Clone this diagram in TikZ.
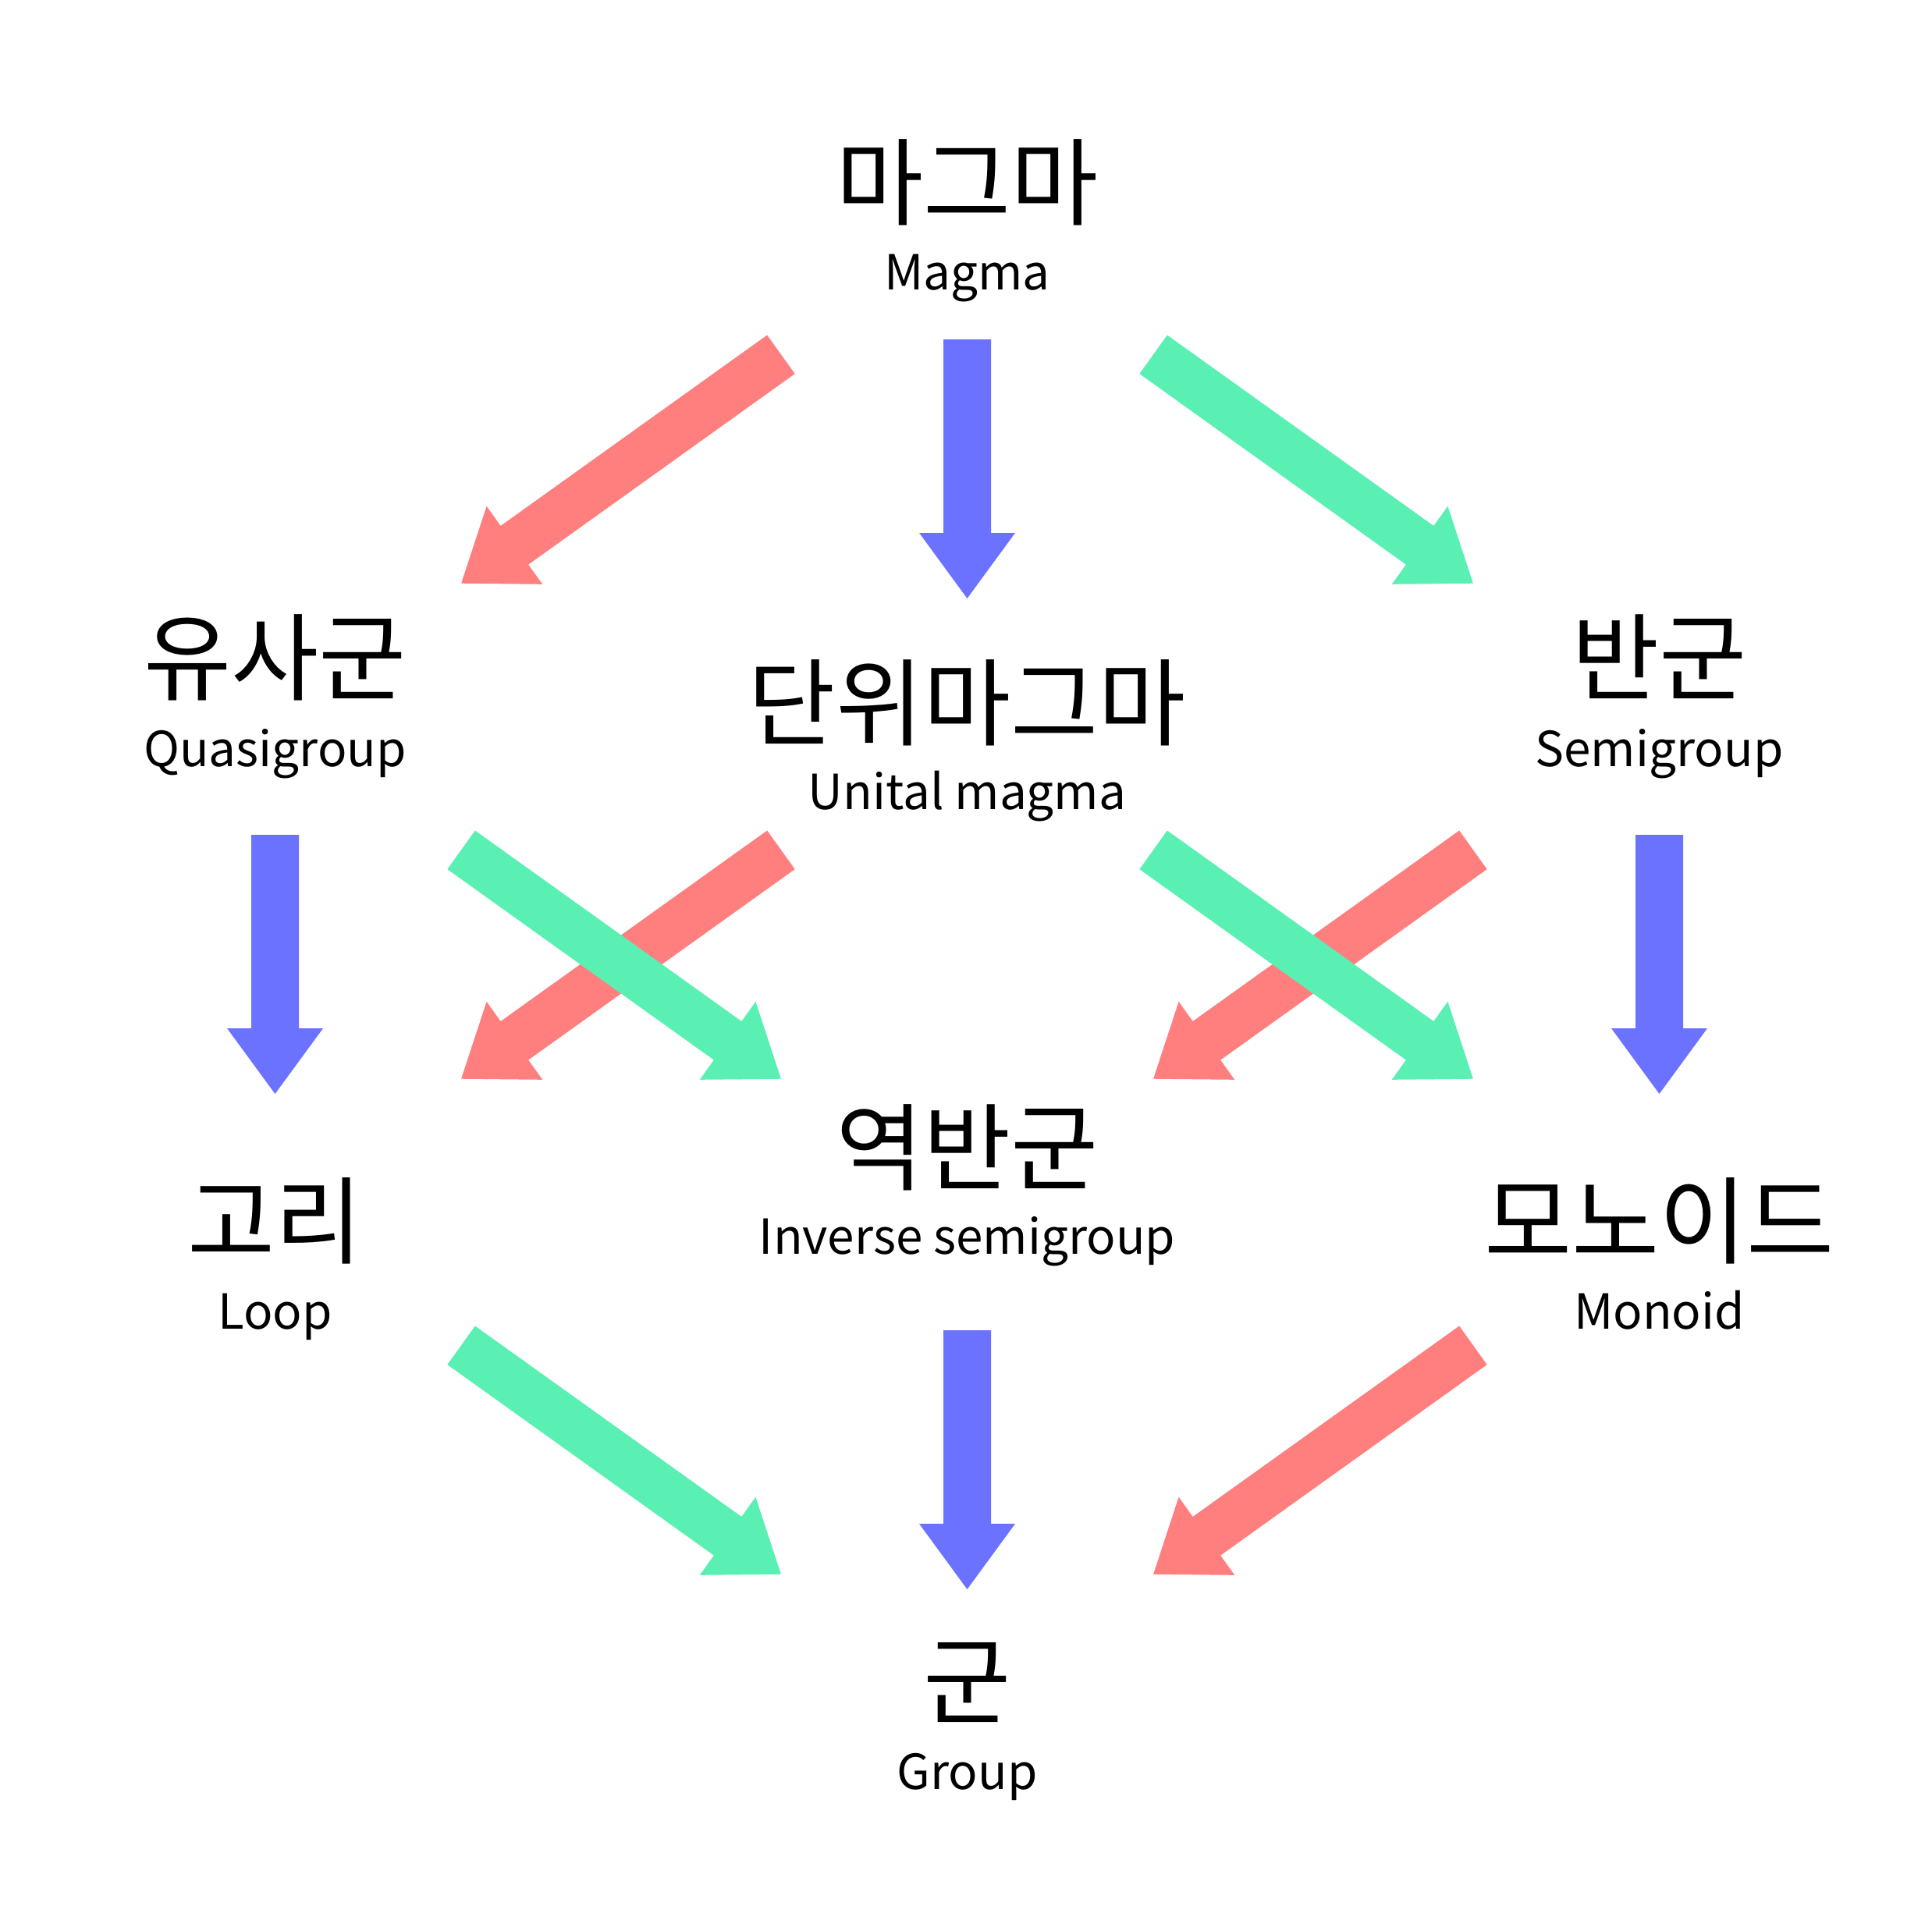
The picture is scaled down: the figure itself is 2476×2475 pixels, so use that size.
\documentclass[tikz,border=0pt]{standalone}
\usepackage{fontspec}
\setmainfont{Noto Sans CJK KR}
\newfontfamily\kr{Noto Sans CJK KR}
\usetikzlibrary{calc}
\definecolor{cred}{HTML}{FF7F7F}
\definecolor{cgreen}{HTML}{5AF0B4}
\definecolor{cblue}{HTML}{6B72FF}
\tikzset{
  kor/.style={anchor=north, inner sep=0pt, outer sep=0pt, font=\kr\fontsize{122}{122}\selectfont},
  lat/.style={anchor=base, inner sep=0pt, outer sep=0pt, font=\kr\fontsize{62}{62}\selectfont},
}
% fat arrow: colour, start coordinate, tip coordinate
\newcommand\fatarr[3]{%
  \path ($(#3)!84pt!(#2)$) coordinate (hb);
  \fill[#1] ($(#2)!30.5pt!90:(#3)$) -- ($(hb)!30.5pt!90:(#3)$) -- ($(hb)!61.5pt!90:(#3)$)
    -- (#3) -- ($(hb)!61.5pt!-90:(#3)$) -- ($(hb)!30.5pt!-90:(#3)$) -- ($(#2)!30.5pt!-90:(#3)$) -- cycle;}
\begin{document}
\begin{tikzpicture}[x=1pt,y=-1pt]
\fill[white] (0,0) rectangle (2476,2475);
\useasboundingbox (0,0) rectangle (2476,2475);
% labels
\node[kor] (magma) at (1239.5,179) {마그마};
\node[lat] (magmaL) at (1239.5,371) {Magma};
\node[kor] (quasi) at (352.5,788) {유사군};
\node[lat] (quasiL) at (352.5,982) {Quasigroup};
\node[kor] (unital) at (1239.5,846) {단위마그마};
\node[lat] (unitalL) at (1239.5,1037) {Unital magma};
\node[kor] (semi) at (2126.5,788) {반군};
\node[lat] (semiL) at (2126.5,982) {Semigroup};
\node[kor] (inverse) at (1239.5,1416) {역반군};
\node[lat] (inverseL) at (1239.5,1607) {Inverse semigroup};
\node[kor] (loop) at (352.5,1510) {고리};
\node[lat] (loopL) at (352.5,1703) {Loop};
\node[kor] (monoid) at (2126.5,1510) {모노이드};
\node[lat] (monoidL) at (2126.5,1703) {Monoid};
\node[kor] (group) at (1239.5,2105) {군};
\node[lat] (groupL) at (1239.5,2293) {Group};
% arrow end points
\coordinate (mqA) at (1000.9,454.3);  \coordinate (mqB) at (591.1,747.7);
\coordinate (msA) at (1478.1,454.3);  \coordinate (msB) at (1887.9,747.7);
\coordinate (muA) at (1239.5,435);    \coordinate (muB) at (1239.5,767);
\coordinate (qiA) at (591.1,1089.3);  \coordinate (qiB) at (1000.9,1382.7);
\coordinate (ulA) at (1000.9,1089.3); \coordinate (ulB) at (591.1,1382.7);
\coordinate (umA) at (1478.1,1089.3); \coordinate (umB) at (1887.9,1382.7);
\coordinate (siA) at (1887.9,1089.3); \coordinate (siB) at (1478.1,1382.7);
\coordinate (qlA) at (352.5,1070);    \coordinate (qlB) at (352.5,1402);
\coordinate (smA) at (2126.5,1070);   \coordinate (smB) at (2126.5,1402);
\coordinate (lgA) at (591.1,1724.3);  \coordinate (lgB) at (1000.9,2017.7);
\coordinate (igA) at (1239.5,1705);   \coordinate (igB) at (1239.5,2037);
\coordinate (mgA) at (1887.9,1724.3); \coordinate (mgB) at (1478.1,2017.7);
% red
\fatarr{cred}{mqA}{mqB}
\fatarr{cred}{ulA}{ulB}
\fatarr{cred}{siA}{siB}
\fatarr{cred}{mgA}{mgB}
% blue
\fatarr{cblue}{muA}{muB}
\fatarr{cblue}{qlA}{qlB}
\fatarr{cblue}{smA}{smB}
\fatarr{cblue}{igA}{igB}
% green
\fatarr{cgreen}{msA}{msB}
\fatarr{cgreen}{qiA}{qiB}
\fatarr{cgreen}{umA}{umB}
\fatarr{cgreen}{lgA}{lgB}
\end{tikzpicture}
\end{document}
